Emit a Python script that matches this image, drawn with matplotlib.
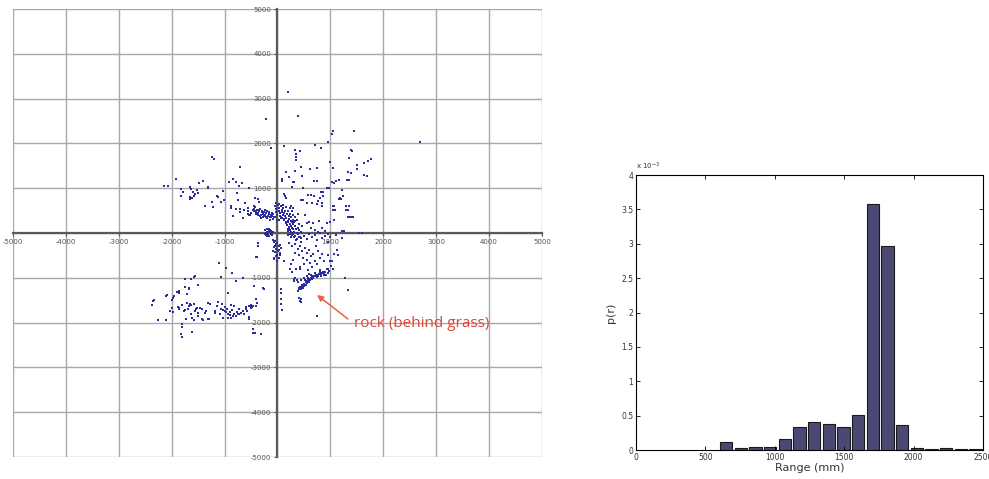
import matplotlib
matplotlib.use("Agg")
import matplotlib.pyplot as plt
from matplotlib.ticker import FuncFormatter

# ---------------- DATA ----------------
# Scatter points (mm), grouped by region of the plot
sparse_top = [(195, 3147), (-215, 2537), (390, 2612), (1057, 2284), (1030, 2202), (1441, 2270),
              (2687, 2039), (963, 2024), (121, 1949), (707, 1957), (822, 1897), (-120, 1890),
              (323, 1860), (424, 1838), (357, 1771), (357, 1696), (357, 1637), (1387, 1845),
              (1407, 1823), (1360, 1682), (1771, 1659), (1704, 1615), (1636, 1562), (1508, 1510),
              (1495, 1429), (1643, 1287), (1333, 1362), (1057, 1443), (983, 1585), (444, 1466),
              (606, 1429), (741, 1458), (330, 1391), (162, 1354), (222, 1257), (458, 1280),
              (81, 1213), (94, 1153), (687, 1153), (754, 1153), (296, 1138), (1064, 1124),
              (1104, 1153), (1165, 1176), (1313, 1190), (283, 1027), (303, 1131), (114, 878),
              (135, 818), (168, 774), (485, 1004), (572, 841), (640, 841), (451, 737), (653, 662),
              (754, 655), (808, 789), (822, 915), (929, 1004), (1024, 1138), (1219, 952),
              (1178, 789), (1158, 759), (1044, 610), (1044, 521), (1300, 595), (1293, 521),
              (1340, 357), (1374, 350), (1212, 52), (1549, 0), (627, 852), (690, 837), (854, 911),
              (866, 830), (973, 1000), (488, 741), (551, 667), (771, 704), (847, 667), (835, 607),
              (1244, 815), (1194, 756), (1074, 593), (1087, 519), (1357, 607), (1338, 519),
              (1402, 348), (1433, 348), (1074, 296), (1257, 52), (1591, 0), (520, 407), (600, 240),
              (680, 220), (780, 260), (835, 111), (898, 52), (930, 222), (992, 237), (551, 222),
              (640, 120), (700, 60), (760, 30), (1686, 1274), (1389, 1348), (1351, 1185)]

upper_left = [(-2142, 1059), (-2062, 1044), (-1926, 1207), (-1821, 985), (-1784, 926), (-1821, 837),
              (-1648, 1022), (-1630, 978), (-1599, 926), (-1525, 963), (-1506, 904), (-1556, 874),
              (-1586, 815), (-1648, 793), (-1660, 763), (-1617, 778), (-1488, 1119), (-1407, 1170),
              (-1321, 1007), (-1247, 1704), (-1198, 1652), (-1142, 830), (-1123, 793), (-1235, 681),
              (-1074, 696), (-1364, 607), (-1210, 570), (-1012, 726), (-1031, 941), (-914, 1133),
              (-840, 1200), (-784, 1148), (-667, 1111), (-716, 1481), (-537, 1000), (-765, 889),
              (-747, 726), (-877, 607), (-870, 556), (-784, 533), (-704, 533), (-617, 667),
              (-636, 519), (-562, 548), (-562, 481), (-716, 459), (-846, 370), (-648, 341),
              (-451, 607), (-426, 778), (-364, 756), (-352, 681), (-426, 570), (-352, 519),
              (-512, 393), (-1832, 833), (-1320, 1019), (-727, 1057), (-680, 1116)]

center_dense = [(-470, 520), (-440, 540), (-420, 500), (-400, 470), (-380, 520), (-360, 450), (-350, 490),
                (-330, 540), (-310, 410), (-300, 470), (-290, 500), (-270, 430), (-260, 380), (-250, 460),
                (-240, 520), (-230, 400), (-220, 350), (-210, 440), (-200, 480), (-190, 330), (-180, 390),
                (-170, 420), (-160, 460), (-150, 360), (-140, 300), (-130, 410), (-120, 350), (-110, 450),
                (-100, 380), (-90, 320), (-80, 420), (-70, 360), (-450, 480), (-410, 430), (-370, 400),
                (-340, 380), (-280, 350), (-320, 330), (-500, 450), (-530, 400), (-560, 420),
                (-50, 600), (-30, 540), (-20, 470), (0, 410), (10, 630), (20, 560), (30, 500), (40, 380),
                (50, 450), (60, 610), (70, 330), (80, 520), (90, 470), (100, 400), (110, 560), (120, 300),
                (130, 440), (140, 370), (150, 500), (160, 580), (170, 340), (180, 420), (190, 270),
                (200, 480), (210, 380), (220, 320), (230, 560), (240, 430), (250, 260), (260, 360),
                (270, 480), (290, 300), (300, 400), (320, 250), (340, 350), (360, 280), (380, 420),
                (-40, 350), (-10, 300), (30, 290), (60, 350), (90, 330), (130, 310), (170, 250),
                (110, 620), (-20, 660), (20, 650), (250, 600), (300, 550),
                (160, 220), (180, 180), (200, 240), (210, 140), (220, 100), (230, 200), (240, 60),
                (250, 160), (260, 20), (270, 120), (280, -40), (290, 80), (300, 200), (310, -100),
                (320, 30), (330, 150), (340, -60), (350, 90), (360, -140), (370, 10), (380, 120),
                (390, -30), (400, 60), (420, -90), (440, 20), (460, 150), (200, 40), (230, -20),
                (260, -80), (300, -10), (190, 90), (270, 250), (330, 260), (410, 200), (450, -120)]

origin_clumps = [(-230, 60), (-220, 10), (-210, -40), (-200, 80), (-190, 30), (-180, -20), (-170, 50),
                 (-160, -60), (-150, 20), (-140, 70), (-130, -30), (-120, 40), (-110, 0), (-100, -50),
                 (-90, 30), (-200, -70), (-160, 90), (-240, -20),
                 (-80, -150), (-60, -200), (-40, -170), (-20, -250), (0, -220), (20, -300), (40, -260),
                 (-70, -320), (-30, -350), (10, -400), (30, -370), (-50, -430), (0, -480), (40, -450),
                 (-20, -520), (20, -560), (-60, -580), (-10, -620), (50, -500), (-40, -280), (-80, -400),
                 (60, -340), (-364, -223), (-411, -536), (-395, -541), (-370, -296)]

right_desc = [(200, -50), (250, -100), (300, -30), (350, -150), (400, -80), (450, -200), (500, -60),
              (550, -130), (600, -20), (650, -90), (700, -40), (750, -160), (800, -10), (850, -120),
              (900, -60), (950, -30), (220, -220), (280, -300), (330, -250), (380, -350), (420, -280),
              (470, -400), (520, -330), (560, -450), (600, -380), (640, -520), (680, -460), (720, -300),
              (760, -400), (800, -550), (840, -470), (880, -620), (700, -620), (620, -680), (560, -600),
              (480, -560), (400, -500), (340, -450), (300, -600), (260, -700), (350, -800), (420, -750),
              (500, -700), (580, -820), (660, -760), (740, -700), (800, -830), (870, -900), (930, -800),
              (980, -850), (1020, -740), (1000, -620), (960, -480), (1130, -370), (1150, -480),
              (1060, -460), (1030, -620), (1220, -110), (950, -200), (1000, -100), (1100, -50),
              (121, -632), (276, -878), (242, -804), (431, -804), (316, -1034), (303, -1064),
              (956, -804), (1057, -797), (1273, -997), (1340, -1265), (74, -1250), (67, -1339),
              (61, -1473), (67, -1577), (81, -1711), (-74, -558), (741, -1845), (424, -1525),
              (451, -1548), (438, -1473), (404, -1451)]

rock_line = [(390, -1290), (410, -1260), (430, -1240), (450, -1200), (470, -1180), (490, -1150),
             (510, -1130), (530, -1100), (550, -1080), (570, -1060), (590, -1040), (610, -1020),
             (630, -1000), (650, -980), (670, -970), (700, -950), (730, -940), (760, -930), (790, -920),
             (820, -910), (850, -900), (400, -1230), (420, -1210), (440, -1260), (460, -1150),
             (480, -1220), (500, -1190), (520, -1060), (540, -1150), (560, -1120), (580, -1000),
             (600, -1090), (620, -1060), (640, -940), (660, -1030), (680, -1010), (710, -900),
             (740, -990), (770, -960), (800, -880), (830, -950), (860, -870), (880, -930), (900, -880),
             (360, -1050), (340, -1000), (380, -1100), (450, -1050), (500, -1000), (550, -960),
             (600, -920), (920, -930), (950, -900)]

lower_left = [(-1111, -662), (-981, -778), (-1062, -985), (-864, -889), (-784, -1074), (-660, -1000),
              (-444, -1185), (-272, -1237), (-414, -1467), (-395, -1556), (-475, -1652), (-506, -1681),
              (-457, -2133), (-426, -2237), (-321, -2244), (-472, -2232), (-539, -1875), (-539, -1920),
              (-1753, -1037), (-1630, -1037), (-1556, -963), (-1494, -1163), (-1741, -1200),
              (-1679, -1259), (-1864, -1296), (-1864, -1333), (-1710, -1370), (-1957, -1407),
              (-1969, -1444), (-2080, -1393), (-2327, -1504), (-2377, -1615), (-2000, -1667),
              (-1975, -1763), (-2265, -1948), (-2111, -1948), (-1802, -1607), (-1864, -1667),
              (-1741, -1726), (-1679, -1630), (-1648, -1578), (-1630, -1615), (-1586, -1593),
              (-1525, -1681), (-1463, -1667), (-1556, -1741), (-1642, -1815), (-1617, -1889),
              (-1722, -1926), (-1802, -2037), (-1802, -2096), (-1833, -2259), (-1802, -2311),
              (-1617, -2207), (-1494, -1852), (-1420, -1926), (-1309, -1926), (-1370, -1778),
              (-1309, -1556), (-1185, -1741), (-1142, -1630), (-1093, -1815), (-1031, -1889),
              (-1062, -1704), (-1000, -1741), (-969, -1760), (-938, -1815), (-907, -1830),
              (-938, -1889), (-877, -1889), (-846, -1850), (-815, -1815), (-784, -1850),
              (-753, -1815), (-722, -1800), (-691, -1780), (-660, -1741), (-630, -1815),
              (-599, -1704), (-568, -1741), (-938, -1333), (-827, -1630), (-1125, -1548),
              (-1051, -1577), (-875, -1600), (-1273, -1577), (-1185, -1786), (-1354, -1734),
              (-1434, -1696), (-1549, -1689), (-1697, -1696), (-1771, -1734), (-1859, -1689),
              (-1704, -1563), (-1892, -1309), (-1677, -1235), (-1502, -1168), (-1569, -982),
              (-1986, -1488), (-2040, -1749), (-2115, -1399), (-2350, -1510), (-1872, -1652),
              (-1582, -1935), (-1407, -1942), (-1495, -1793), (-1286, -1927), (-1024, -1711),
              (-1000, -1650), (-960, -1700), (-900, -1760), (-860, -1720), (-760, -1760),
              (-720, -1700), (-600, -1650), (-540, -1620), (-500, -1600), (-943, -1347),
              (-256, -1257), (-384, -1563), (-404, -1637), (-465, -1637), (-505, -1652)]

# Histogram of ranges
bin_centers = [650, 756, 861, 967, 1072, 1178, 1284, 1389, 1495, 1600, 1706, 1812,
               1917, 2023, 2128, 2234, 2340, 2445]
p_r_e3 = [0.12, 0.03, 0.05, 0.05, 0.16, 0.34, 0.41, 0.38, 0.34, 0.51, 3.58, 2.97,
          0.37, 0.03, 0.02, 0.03, 0.01, 0.02]
hist_xticks = [0, 500, 1000, 1500, 2000, 2500]
hist_yticks = [0, 0.5, 1, 1.5, 2, 2.5, 3, 3.5, 4]
scatter_ticks = [-5000, -4000, -3000, -2000, -1000, 0, 1000, 2000, 3000, 4000, 5000]

# ---------------- FIGURE ----------------
W, H = 989, 479
fig = plt.figure(figsize=(W / 100, H / 100), dpi=100)
fig.patch.set_facecolor("white")

# ----- Left scatter -----
ax1 = fig.add_axes([13 / W, (H - 457) / H, (542 - 13) / W, (457 - 9) / H])
ax1.set_xlim(-5000, 5000)
ax1.set_ylim(-5000, 5000)
for v in scatter_ticks:
    ax1.axvline(v, color="#a8a8a8", lw=1.0, zorder=1)
    ax1.axhline(v, color="#a8a8a8", lw=1.0, zorder=1)
for sp in ["top", "right"]:
    ax1.spines[sp].set_visible(False)
ax1.spines["left"].set_position(("data", 0))
ax1.spines["bottom"].set_position(("data", 0))
for sp in ["left", "bottom"]:
    ax1.spines[sp].set_color("#5a5a5a")
    ax1.spines[sp].set_linewidth(1.6)
    ax1.spines[sp].set_zorder(2)
ax1.set_xticks(scatter_ticks)
ax1.set_yticks(scatter_ticks)
lab = lambda v, pos: "" if v == 0 else f"{int(v)}"
ax1.xaxis.set_major_formatter(FuncFormatter(lab))
ax1.yaxis.set_major_formatter(FuncFormatter(lab))
ax1.tick_params(axis="both", direction="out", length=2.5, width=0.8, color="#5a5a5a",
                labelsize=5, labelcolor="#555555", pad=2)

groups = [sparse_top, upper_left, center_dense, origin_clumps, right_desc, rock_line, lower_left]
for g in groups:
    xs = [p[0] for p in g]
    ys = [p[1] for p in g]
    ax1.scatter(xs, ys, s=4.5, marker="s", color="#2b2d9c", linewidths=0, zorder=3)

ax1.annotate("", xy=(747, -1384), xytext=(1332, -1920),
             arrowprops=dict(arrowstyle="-|>", color="#e8643c", lw=1.1,
                             mutation_scale=9, shrinkA=0, shrinkB=0), zorder=4)
ax1.text(1446, -2009, "rock (behind grass)", color="#d9473a", fontsize=11,
         family="Open Sans", va="center", ha="left", zorder=4)

# ----- Right histogram -----
ax2 = fig.add_axes([636 / W, (H - 450) / H, (983 - 636) / W, (450 - 175) / H])
ax2.bar(bin_centers, p_r_e3, width=90, color="#4b4874", edgecolor="#1a1a1a", linewidth=0.8)
ax2.set_xlim(0, 2500)
ax2.set_ylim(0, 4)
ax2.set_xticks(hist_xticks)
ax2.set_yticks(hist_yticks)
ax2.yaxis.set_major_formatter(FuncFormatter(lambda v, pos: f"{v:g}"))
ax2.tick_params(axis="both", direction="in", length=3, width=0.6, labelsize=5.5,
                labelcolor="#333333", top=True, right=True, pad=2)
for sp in ax2.spines.values():
    sp.set_linewidth(0.8)
ax2.set_xlabel("Range (mm)", fontsize=8, color="#333333", labelpad=1)
ax2.set_ylabel("p(r)", fontsize=8, color="#333333", labelpad=4)
ax2.text(0.0, 1.01, r"x 10$^{-3}$", transform=ax2.transAxes, fontsize=5,
         color="#333333", ha="left", va="bottom")

fig.savefig("out.png", dpi=100)
